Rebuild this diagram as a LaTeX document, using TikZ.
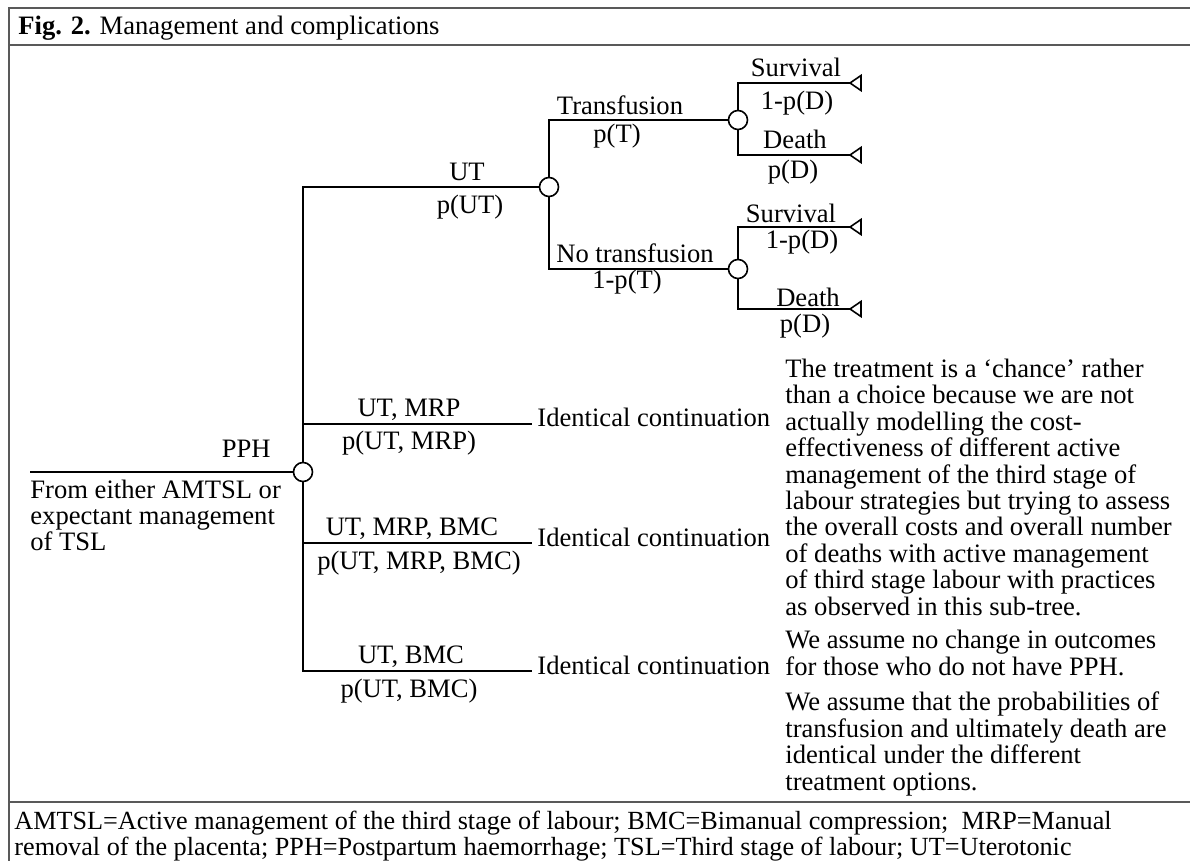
\documentclass[tikz,border=0pt]{standalone}
\usepackage{fontspec}
\setmainfont{Liberation Serif}
\usetikzlibrary{positioning}

\begin{document}
\begin{tikzpicture}[x=0.5pt, y=-0.5pt,
  txt/.style={inner sep=0pt, font=\fontsize{13.3}{13.2}\selectfont},
  lab/.style={txt, anchor=base},
  note/.style={txt, anchor=base west, align=left},
  cont/.style={txt, anchor=west, inner sep=2.5pt, text height=9pt, text depth=6pt},
  chance/.style={circle, draw, fill=white, minimum size=9.5pt, inner sep=0pt, line width=0.8pt},
  br/.style={line width=1pt},
  term/.style={line width=0.8pt},
  rule/.style={draw=black!65, line width=1pt}]
\useasboundingbox (0,0) rectangle (1190,861);
% frame
\draw[rule] (1190,8) -- (9,8) -- (9,861);
\draw[rule] (9,45.5) -- (1190,45.5);
\draw[rule] (9,802) -- (1190,802);
\node[txt, anchor=base west] (title) at (18,35) {\textbf{Fig. 2.} Management and complications};

% chance nodes and end points
\node[chance] (c0) at (303,472) {};
\node[chance] (c1) at (549,187) {};
\node[chance] (c2) at (738,120) {};
\node[chance] (c3) at (738,269) {};
\coordinate (in) at (30,472);
\coordinate (s1) at (850,83);
\coordinate (d1) at (850,155);
\coordinate (s2) at (850,227);
\coordinate (d2) at (850,309);
\node[cont] (ic1) at (532,424) {Identical continuation};
\node[cont] (ic2) at (532,543) {Identical continuation};
\node[cont] (ic3) at (532,671) {Identical continuation};

% branches
\draw[br] (in) -- (c0);
\foreach \a/\b in {c0/c1,c0/ic1,c0/ic2,c0/ic3,c1/c2,c1/c3,c2/s1,c2/d1,c3/s2,c3/d2}
  \draw[br] (\a) |- (\b);
\foreach \t in {s1,d1,s2,d2}
  \draw[term] (\t) -- ++(11,-7.5) -- ++(0,15) -- cycle;

% branch labels
\node[lab] (lut) at (467,181) {UT};
\node[lab] (lput) at (470,214) {p(UT)};
\node[lab] (ltr) at (620,115) {Transfusion};
\node[lab] (lpt) at (617,143) {p(T)};
\node[lab] (lntr) at (635,263) {No transfusion};
\node[lab] (lpnt) at (627,289) {1-p(T)};
\node[lab] (ls1) at (796,77) {Survival};
\node[lab] (lps1) at (797,110) {1-p(D)};
\node[lab] (ld1) at (795,149) {Death};
\node[lab] (lpd1) at (793,179) {p(D)};
\node[lab] (ls2) at (791,223) {Survival};
\node[lab] (lps2) at (802,249) {1-p(D)};
\node[lab] (ld2) at (808,307) {Death};
\node[lab] (lpd2) at (805,333) {p(D)};
\node[lab] (lm) at (409,416) {UT, MRP};
\node[lab] (lpm) at (409,450) {p(UT, MRP)};
\node[lab] (lmb) at (412,535) {UT, MRP, BMC};
\node[lab] (lpmb) at (419,569) {p(UT, MRP, BMC)};
\node[lab] (lb) at (411,663) {UT, BMC};
\node[lab] (lpb) at (409,697) {p(UT, BMC)};
\node[txt, anchor=base east] (lpph) at (271,458) {PPH};
\node[note] (from) at (30,551) {From either AMTSL or\\expectant management\\of TSL};

% notes
\node[note] (n1) at (785,615) {The treatment is a ‘chance’ rather\\than a choice because we are not\\actually modelling the cost-\\effectiveness of different active\\management of the third stage of\\labour strategies but trying to assess\\the overall costs and overall number\\of deaths with active management\\of third stage labour with practices\\as observed in this sub-tree.};
\node[note] (n2) at (785,675) {We assume no change in outcomes\\for those who do not have PPH.};
\node[note] (n3) at (785,790) {We assume that the probabilities of\\transfusion and ultimately death are\\identical under the different\\treatment options.};

% key
\node[note, font=\fontsize{13.1}{13}\selectfont] (key) at (14,855) {AMTSL=Active management of the third stage of labour; BMC=Bimanual compression;\ \ MRP=Manual\\removal of the placenta; PPH=Postpartum haemorrhage; TSL=Third stage of labour; UT=Uterotonic};
\end{tikzpicture}
\end{document}
